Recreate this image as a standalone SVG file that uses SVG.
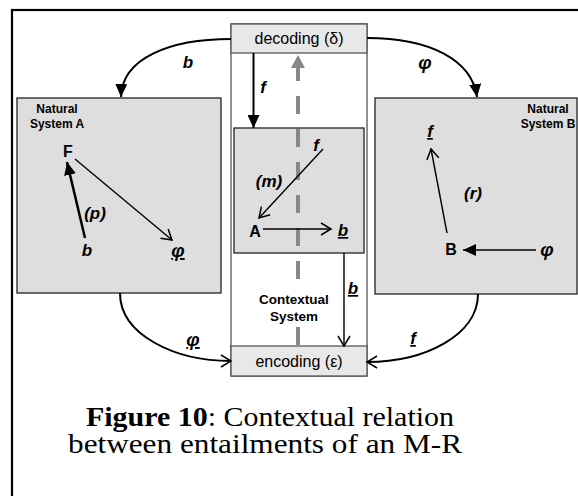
<svg xmlns="http://www.w3.org/2000/svg" width="578" height="496" viewBox="0 0 578 496">
<style>
.box{fill:#dedede;stroke:#222;stroke-width:1.3}
.cbox{fill:#e8e8e8;stroke:#555;stroke-width:1.3}
.lbl{font-family:"Liberation Sans",Arial,sans-serif;font-weight:bold;font-style:italic;font-size:17px;fill:#000;text-anchor:middle}
.phi{font-size:19px}
.node{font-family:"Liberation Sans",Arial,sans-serif;font-weight:bold;font-size:16px;fill:#000;text-anchor:middle}
.title{font-family:"Liberation Sans",Arial,sans-serif;font-weight:bold;font-size:12px;fill:#000;text-anchor:middle}
.plain{font-family:"Liberation Sans",Arial,sans-serif;font-size:16px;fill:#000;text-anchor:middle}
.cap{font-family:"Liberation Serif","Times New Roman",serif;font-size:27px;fill:#000;text-anchor:middle}
.arc{fill:none;stroke:#000;stroke-width:2}
.thin{fill:none;stroke:#000;stroke-width:1.4}
.u{text-decoration:underline}
</style>
<defs>
<marker id="fill" markerUnits="userSpaceOnUse" markerWidth="14" markerHeight="12" viewBox="0 0 14 12" refX="13" refY="6" orient="auto">
<path d="M0,0 L13,6 L0,12 Z" fill="#000"/>
</marker>
<marker id="open" markerUnits="userSpaceOnUse" markerWidth="14" markerHeight="14" viewBox="0 0 14 14" refX="12" refY="7" orient="auto">
<path d="M2,1 L12,7 L2,13" fill="none" stroke="#000" stroke-width="1.5"/>
</marker>
</defs>
<rect x="12" y="10" width="700" height="700" fill="#fff" stroke="#000" stroke-width="2.2"/>

<g id="contextual">
<rect x="231" y="24" width="136" height="352" fill="#fff" stroke="#555" stroke-width="1.3"/>
</g>
<g id="inner">
<rect x="234" y="128" width="130" height="125" class="box" stroke="#555"/>
</g>
<g id="decoding">
<rect x="231" y="24" width="136" height="29" class="cbox"/>
<text x="299" y="44" class="plain">decoding (δ)</text>
</g>
<g id="encoding">
<rect x="231" y="346" width="136" height="30" class="cbox"/>
<text x="299" y="367" class="plain">encoding (ε)</text>
</g>
<g id="systemA">
<rect x="17" y="98" width="204" height="195" class="box"/>
<text x="57" y="113" class="title">Natural</text>
<text x="57" y="128" class="title">System A</text>
</g>
<g id="systemB">
<rect x="375" y="98" width="202" height="196" class="box"/>
<text x="548" y="113" class="title">Natural</text>
<text x="548" y="128" class="title">System B</text>
</g>

<g id="connectors">
<line x1="298" y1="345" x2="298" y2="66" stroke="#888" stroke-width="4" stroke-dasharray="18 15"/>
<path d="M298,55 L305,68 L291,68 Z" fill="#888"/>
<rect x="255" y="288" width="80" height="35" fill="#fff"/>
<path d="M231,39 C170,39 122,58 121,97" class="arc" marker-end="url(#fill)"/>
<path d="M367,38 C430,38 472,60 477,97" class="arc" marker-end="url(#fill)"/>
<path d="M120,293 C120,335 175,361 231,361" class="arc" marker-end="url(#open)"/>
<path d="M478,294 C478,335 425,362 367,362" class="arc" marker-end="url(#open)"/>
<line x1="253.5" y1="53" x2="253.5" y2="128" class="arc" marker-end="url(#fill)"/>
<line x1="344" y1="253" x2="344" y2="346" class="thin" marker-end="url(#open)"/>
<line x1="85" y1="238" x2="67" y2="162" stroke="#000" stroke-width="2.5" marker-end="url(#fill)"/>
<line x1="75" y1="159" x2="172" y2="240" class="thin" marker-end="url(#open)"/>
<line x1="323" y1="149" x2="259" y2="218" class="thin" marker-end="url(#open)"/>
<line x1="263" y1="229" x2="331" y2="229" class="thin" marker-end="url(#open)"/>
<line x1="447" y1="233" x2="431" y2="149" class="thin" marker-end="url(#open)"/>
<line x1="536" y1="250" x2="463" y2="250" stroke="#000" stroke-width="1.6" marker-end="url(#fill)"/>
</g>

<g id="labels">
<text x="188" y="68" class="lbl">b</text>
<text x="425" y="69" class="lbl phi">φ</text>
<text x="263" y="93" class="lbl">f</text>
<text x="193" y="346" class="lbl phi u">φ</text>
<text x="413" y="344" class="lbl u">f</text>
<text x="353" y="294" class="lbl u">b</text>
<text x="294" y="304" class="title" style="font-size:13.5px">Contextual</text>
<text x="294" y="321" class="title" style="font-size:13.5px">System</text>
<text x="68" y="157" class="node">F</text>
<text x="87" y="256" class="lbl">b</text>
<text x="95" y="219" class="lbl">(p)</text>
<text x="178" y="257" class="lbl phi u">φ</text>
<text x="316" y="151" class="lbl">f</text>
<text x="269" y="187" class="lbl">(m)</text>
<text x="255" y="237" class="node">A</text>
<text x="343" y="236" class="lbl u">b</text>
<text x="430" y="137" class="lbl u">f</text>
<text x="473" y="199" class="lbl">(r)</text>
<text x="451" y="255" class="node">B</text>
<text x="547" y="256" class="lbl phi">φ</text>
</g>

<g id="caption">
<text x="270" y="426" class="cap" textLength="368" lengthAdjust="spacingAndGlyphs"><tspan font-weight="bold">Figure 10</tspan>: Contextual relation</text>
<text x="265" y="453" class="cap" textLength="394" lengthAdjust="spacingAndGlyphs">between entailments of an M-R</text>
</g>
</svg>
